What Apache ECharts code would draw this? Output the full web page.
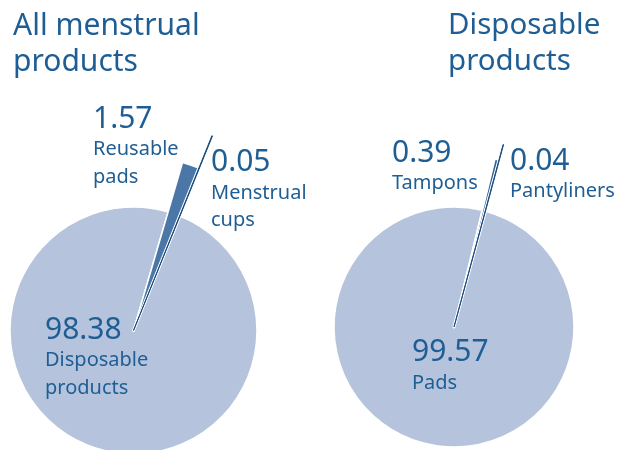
<!DOCTYPE html>
<html><head><meta charset="utf-8">
<script src="https://cdn.jsdelivr.net/npm/echarts@6/dist/echarts.min.js"></script>
<style>html,body{margin:0;padding:0;background:#fff}#c{width:621px;height:450px}</style>
</head><body><div id="c"></div>
<script>
// ---- data ----
const leftTitle = ['All menstrual', 'products'];
const leftCategories = ['Disposable products', 'Reusable pads', 'Menstrual cups'];
const leftLabelLines = [['Disposable', 'products'], ['Reusable', 'pads'], ['Menstrual', 'cups']];
const leftValues = [98.38, 1.57, 0.05];

const rightTitle = ['Disposable', 'products'];
const rightCategories = ['Pads', 'Tampons', 'Pantyliners'];
const rightLabelLines = [['Pads'], ['Tampons'], ['Pantyliners']];
const rightValues = [99.57, 0.39, 0.04];

// ---- styles ----
const LIGHT = '#b5c4dc';
const DARK = '#4b76a8';
const NAVY = '#1b4c7e';
const TEXT = '#1f5e94';
const FONT = '"Noto Sans", sans-serif';

function layer(center, radius, startAngle, names, values, visIdx, style) {
  return {
    type: 'pie', center: center, radius: [0, radius], startAngle: startAngle,
    clockwise: true, silent: true, animation: false, label: { show: false }, labelLine: { show: false },
    emphasis: { disabled: true }, z: 2,
    data: values.map((v, i) => ({
      name: names[i], value: v,
      itemStyle: i === visIdx ? style : { color: 'rgba(0,0,0,0)', borderWidth: 0 }
    }))
  };
}

const LC = [133.5, 330.5], LR = 123.5, LS = 67.9;
const RC = [454, 327], RR = 120, RS = 74.8;

const series = [
  // left pie
  layer(LC, LR, LS, leftCategories, leftValues, 0, { color: LIGHT, borderColor: '#fff', borderWidth: 1.5 }),
  layer(LC, 175, LS, leftCategories, leftValues, 1, { color: DARK, borderColor: '#fff', borderWidth: 1.5 }),
  layer(LC, 210, LS, leftCategories, leftValues, 2, { color: NAVY, borderColor: '#fff', borderWidth: 3 }),
  layer(LC, 210, LS, leftCategories, leftValues, 2, { color: NAVY, borderColor: NAVY, borderWidth: 1 }),
  // right pie
  layer(RC, RR, RS, rightCategories, rightValues, 0, { color: LIGHT, borderColor: '#fff', borderWidth: 1.5 }),
  layer(RC, 173, RS, rightCategories, rightValues, 1, { color: '#2e5f95', borderColor: '#fff', borderWidth: 2 }),
  layer(RC, 189, RS, rightCategories, rightValues, 2, { color: NAVY, borderColor: '#fff', borderWidth: 3 }),
  layer(RC, 189, RS, rightCategories, rightValues, 2, { color: NAVY, borderColor: NAVY, borderWidth: 1 })
];

// ---- text ----
const graphics = [];
function txt(s, x, y, size) {
  graphics.push({ type: 'text', x: x, y: y, silent: true, z: 100, zlevel: 1,
    style: { text: s, font: size + 'px ' + FONT, fill: TEXT, align: 'left', verticalAlign: 'middle' } });
}
function fmt(v) { return v.toFixed(2); }

// titles
txt(leftTitle[0], 13, 26, 30); txt(leftTitle[1], 13, 62, 30);
txt(rightTitle[0], 448, 26, 29.5); txt(rightTitle[1], 448, 62, 29.5);

// value labels: [x, y of number]
const leftPos = [[45, 330], [93, 119], [211, 162.5]];
const rightPos = [[412, 352.5], [392, 153], [510, 161]];
function labels(values, lines, pos) {
  values.forEach((v, i) => {
    const [x, y] = pos[i];
    txt(fmt(v), x, y, 30);
    lines[i].forEach((l, j) => txt(l, x, y + 30.5 + j * 27.5, 20));
  });
}
labels(leftValues, leftLabelLines, leftPos);
labels(rightValues, rightLabelLines, rightPos);

const chart = echarts.init(document.getElementById('c'), null, { renderer: 'canvas' });
chart.setOption({ backgroundColor: '#fff', animation: false, series: series, graphic: graphics });
</script>
</body></html>
